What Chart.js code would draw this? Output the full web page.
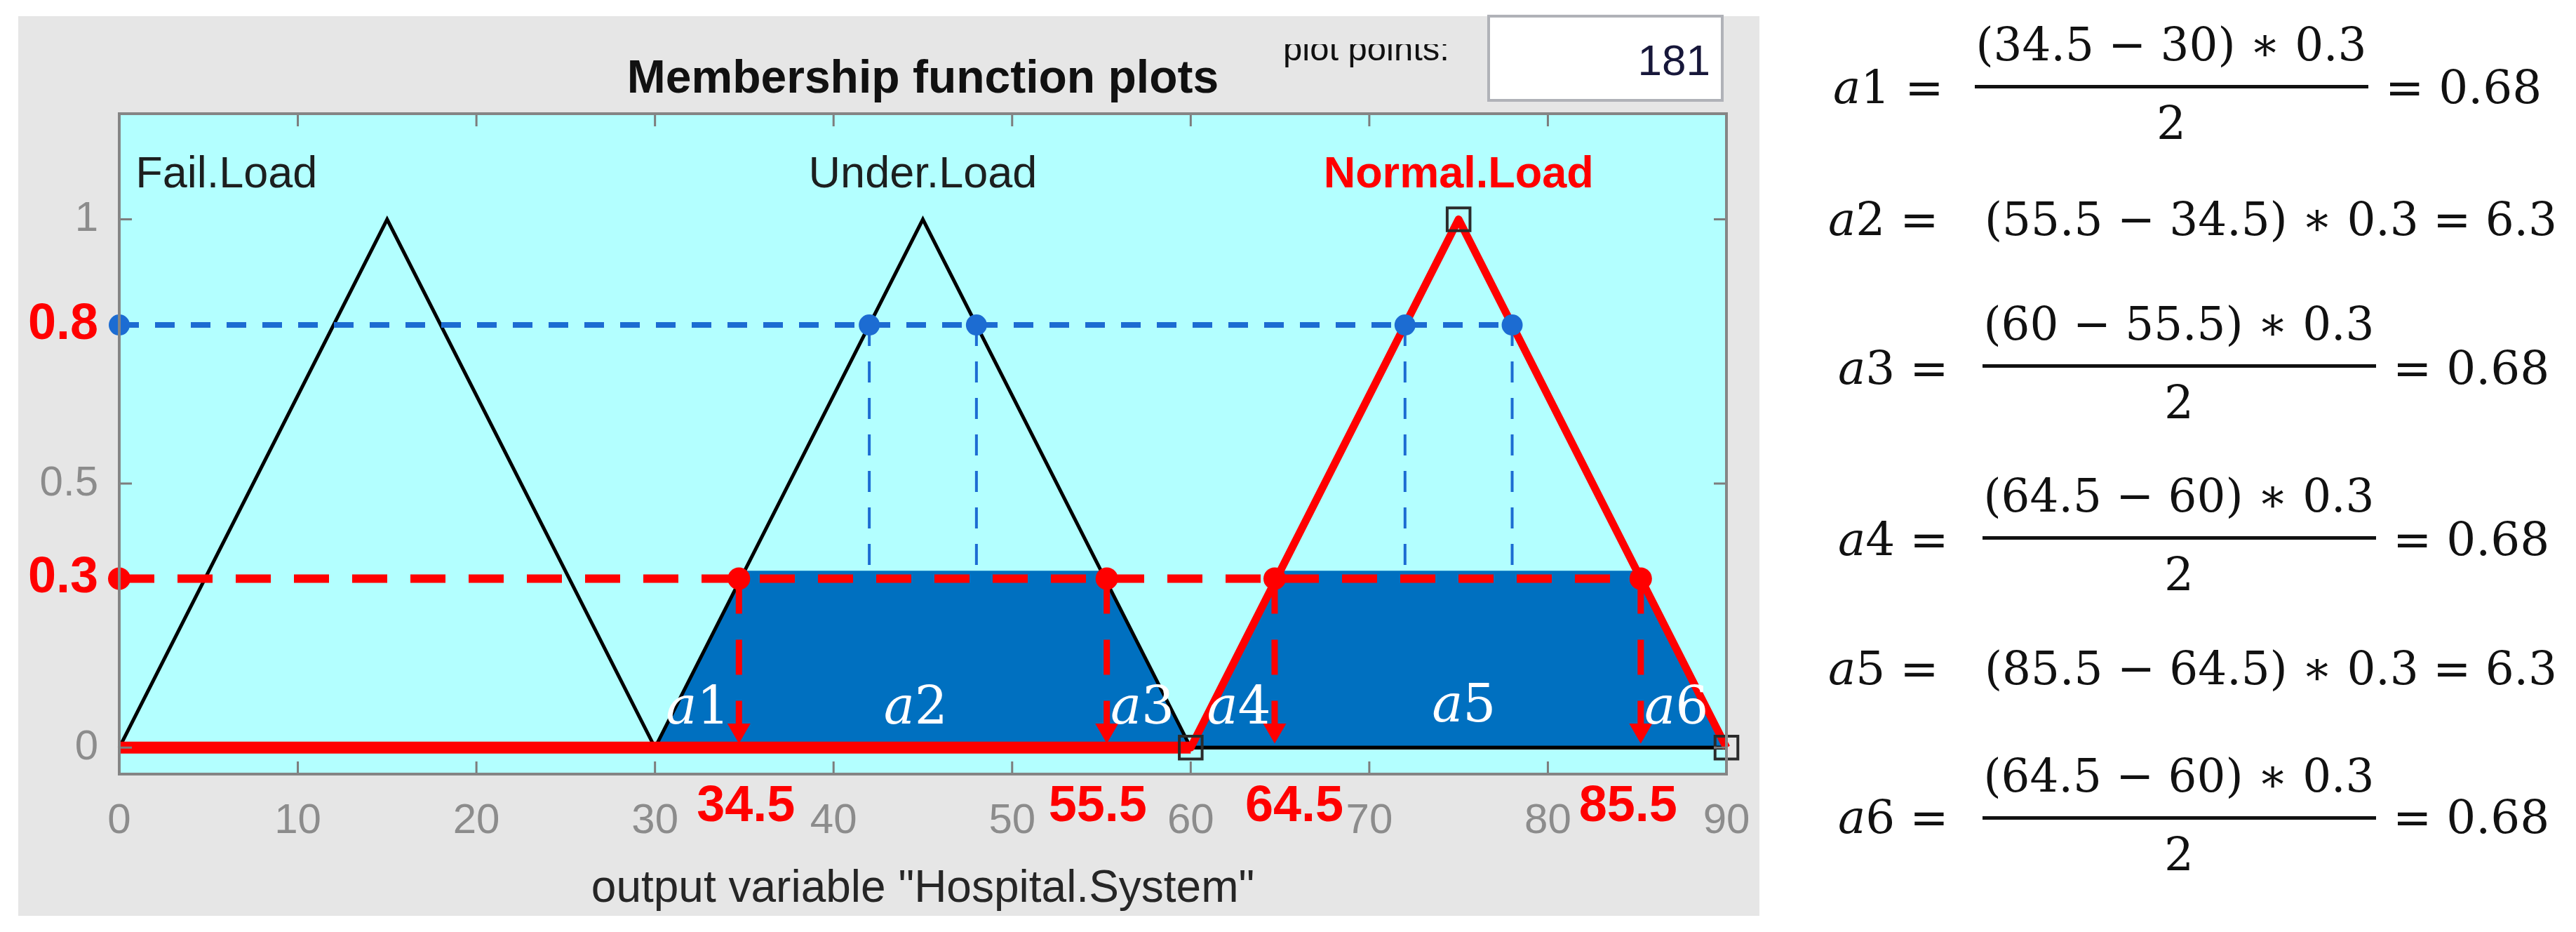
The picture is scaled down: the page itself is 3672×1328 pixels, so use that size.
<!DOCTYPE html>
<html>
<head>
<meta charset="utf-8">
<script src="https://cdn.jsdelivr.net/npm/chart.js@4.4.1/dist/chart.umd.min.js"></script>
<style>
  html, body { margin: 0; padding: 0; background: #fff; }
  canvas { display: block; }
</style>
</head>
<body>
<canvas id="mfChart" width="3672" height="1328"></canvas>
<script>
// axis ticks
const xTicks = [0, 10, 20, 30, 40, 50, 60, 70, 80, 90];
const yTicks = [0, 0.32, 0.5, 0.8, 1];
const yTickLabels = ["0", "0.3", "0.5", "0.8", "1"];
const markedLevels = [0.32, 0.8];

// membership functions (triangles over the whole range)
const failX = [0, 15, 30, 90];
const failY = [0, 1, 0, 0];
const underX = [0, 30, 45, 60, 90];
const underY = [0, 0, 1, 0, 0];
const normalX = [0, 60, 75, 90];
const normalY = [0, 0, 1, 0];
const mfNames = ["Fail.Load", "Under.Load", "Normal.Load"];
const mfNameX = [6, 45, 75];
const nameLevel = 1.06;

// clipped areas (blue)
const clipAX = [30, 35, 55, 60];
const clipBX = [60, 65, 85, 90];
const clipY = [0, 0.335, 0.335, 0];

// cut at 0.3 (red) and probe at 0.8 (blue)
const cutLevel = 0.32;
const cutX = [34.7, 55.3, 64.7, 85.2];
const cutLabels = ["34.5", "55.5", "64.5", "85.5"];
const arrowY = 0.033;
const probeLevel = 0.8;
const probeX = [42, 48, 72, 78];

// selected MF vertices (hollow squares)
const vertexX = [75, 60, 90];
const vertexY = [1, 0, 0];

// area labels
const areaNames = ["1", "2", "3", "4", "5", "6"];
const areaX = [32.4, 44.6, 57.3, 62.7, 75.3, 87.2];
const areaY = [0.045, 0.045, 0.045, 0.045, 0.05, 0.045];

// worked formulas on the right
const formulas = [
  { n: "1", num: "(34.5 − 30) ∗ 0.3", res: "= 0.68" },
  { n: "2", line: "(55.5 − 34.5) ∗ 0.3 = 6.3" },
  { n: "3", num: "(60 − 55.5) ∗ 0.3", res: "= 0.68" },
  { n: "4", num: "(64.5 − 60) ∗ 0.3", res: "= 0.68" },
  { n: "5", line: "(85.5 − 64.5) ∗ 0.3 = 6.3" },
  { n: "6", num: "(64.5 − 60) ∗ 0.3", res: "= 0.68" },
];

const SANS = '"Liberation Sans", Arial, sans-serif';
const SERIF = '"DejaVu Serif", serif';
const RED = "#ff0000";
const BLUE = "#1c6cd2";
const GREY = "#8c8c8c";

function pts(xs, ys) {
  return xs.map((x, i) => ({ x: x, y: ys[i] }));
}
function level(xs, y) {
  return xs.map((x) => ({ x: x, y: y }));
}
function isMarked(c) {
  return !!(c && c.tick && markedLevels.includes(c.tick.value));
}

const datasets = [];

// blue drop lines from the 0.8 probe
probeX.forEach((x) => {
  datasets.push({
    data: [{ x: x, y: probeLevel }, { x: x, y: 0.02 }],
    borderColor: BLUE, borderWidth: 4, borderDash: [30, 22], order: 100,
  });
});

// clipped area fills
[clipAX, clipBX].forEach((xs) => {
  datasets.push({
    data: pts(xs, clipY), fill: "origin", backgroundColor: "#0070c0",
    borderWidth: 0, order: 90,
  });
});

datasets.push({ data: pts(failX, failY), borderColor: "#000", borderWidth: 5, order: 80 });
datasets.push({ data: pts(underX, underY), borderColor: "#000", borderWidth: 5, order: 80 });
datasets.push({ data: pts(normalX, normalY), borderColor: RED, borderWidth: 11, borderJoinStyle: "round", order: 70 });
datasets.push({ data: level([0, 60], 0), borderColor: RED, borderWidth: 17, order: 69 });

// dashed cut lines
datasets.push({
  data: level([0, cutX[cutX.length - 1]], cutLevel),
  borderColor: RED, borderWidth: 12, borderDash: [50, 33], order: 60,
});
datasets.push({
  data: level([0, probeX[probeX.length - 1]], probeLevel),
  borderColor: BLUE, borderWidth: 8, borderDash: [28, 23], order: 59,
});

// red arrows down to the axis
cutX.forEach((x) => {
  datasets.push({
    data: [{ x: x, y: cutLevel }, { x: x, y: arrowY }],
    borderColor: RED, borderWidth: 9, borderDash: [50, 37],
    pointRadius: (c) => (c.dataIndex === 1 ? 19 : 0),
    pointStyle: "triangle", pointRotation: 180,
    pointBackgroundColor: RED, pointBorderWidth: 0, order: 50,
  });
});

// dots
datasets.push({
  data: level([0].concat(cutX), cutLevel), showLine: false,
  pointRadius: 16, pointBackgroundColor: RED, pointBorderWidth: 0, order: 40,
});
datasets.push({
  data: level([0].concat(probeX), probeLevel), showLine: false,
  pointRadius: 15, pointBackgroundColor: BLUE, pointBorderWidth: 0, order: 39,
});
datasets.push({
  data: pts(vertexX, vertexY), showLine: false, pointStyle: "rect",
  pointRadius: 23, pointBorderColor: "#2b2b2b", pointBorderWidth: 4,
  pointBackgroundColor: "rgba(0,0,0,0)", order: 30,
});

function drawA(ctx, n, x, y, size, color) {
  ctx.fillStyle = color;
  ctx.textAlign = "left";
  ctx.font = "italic " + size + "px " + SERIF;
  ctx.fillText("a", x, y);
  const w = ctx.measureText("a").width;
  ctx.font = size + "px " + SERIF;
  ctx.fillText(n, x + w, y);
  return w + ctx.measureText(n).width;
}

const decor = {
  id: "decor",
  beforeDraw(chart) {
    const { ctx, chartArea: a } = chart;
    ctx.save();
    ctx.fillStyle = "#ffffff";
    ctx.fillRect(0, 0, chart.width, chart.height);
    ctx.fillStyle = "#e6e6e6";
    ctx.fillRect(26, 23, 2482, 1282);

    // plot points box
    ctx.fillStyle = "#ffffff";
    ctx.fillRect(2120, 23, 337, 122);
    ctx.strokeStyle = "#b0b2b8";
    ctx.lineWidth = 4;
    ctx.strokeRect(2122, 23, 333, 120);
    ctx.fillStyle = "#17173a";
    ctx.font = "62px " + SANS;
    ctx.textAlign = "right";
    ctx.textBaseline = "alphabetic";
    ctx.fillText("181", 2438, 107);

    ctx.save();
    ctx.beginPath();
    ctx.rect(1820, 63, 270, 40);
    ctx.clip();
    ctx.fillStyle = "#111";
    ctx.font = "49px " + SANS;
    ctx.textAlign = "left";
    ctx.fillText("plot points:", 1829, 86);
    ctx.restore();

    ctx.fillStyle = "#b3ffff";
    ctx.fillRect(a.left, a.top, a.right - a.left, a.bottom - a.top);
    ctx.restore();
  },
  afterDatasetsDraw(chart) {
    const { ctx, chartArea: a, scales } = chart;
    ctx.save();
    ctx.strokeStyle = "#7d7d7d";
    ctx.lineWidth = 3;
    xTicks.forEach((v) => {
      const px = scales.x.getPixelForValue(v);
      ctx.beginPath();
      ctx.moveTo(px, a.top); ctx.lineTo(px, a.top + 18);
      ctx.moveTo(px, a.bottom); ctx.lineTo(px, a.bottom - 18);
      ctx.stroke();
    });
    yTicks.filter((v) => !markedLevels.includes(v)).forEach((v) => {
      const py = scales.y.getPixelForValue(v);
      ctx.beginPath();
      ctx.moveTo(a.left, py); ctx.lineTo(a.left + 18, py);
      ctx.moveTo(a.right, py); ctx.lineTo(a.right - 18, py);
      ctx.stroke();
    });
    ctx.strokeStyle = "#858585";
    ctx.lineWidth = 4;
    ctx.strokeRect(a.left, a.top, a.right - a.left, a.bottom - a.top);
    ctx.restore();
  },
  afterDraw(chart) {
    const { ctx, chartArea: a, scales } = chart;
    const sx = scales.x, sy = scales.y;
    ctx.save();
    ctx.textBaseline = "alphabetic";

    // title
    ctx.fillStyle = "#111";
    ctx.textAlign = "center";
    ctx.font = "bold 66px " + SANS;
    ctx.fillText("Membership function plots", (a.left + a.right) / 2, 132);

    // MF names
    mfNames.forEach((name, i) => {
      const sel = i === mfNames.length - 1;
      ctx.fillStyle = sel ? RED : "#1c1f1f";
      ctx.font = (sel ? "bold " : "") + "63px " + SANS;
      ctx.textAlign = "center";
      ctx.fillText(name, sx.getPixelForValue(mfNameX[i]), sy.getPixelForValue(nameLevel));
    });

    // area labels
    areaNames.forEach((n, i) => {
      ctx.font = "italic 74px " + SERIF;
      const w = ctx.measureText("a").width;
      ctx.font = "74px " + SERIF;
      const w2 = w + ctx.measureText(n).width;
      drawA(ctx, n, sx.getPixelForValue(areaX[i]) - w2 / 2, sy.getPixelForValue(areaY[i]), 74, "#ffffff");
    });

    // red cut positions under the axis
    const nudge = [10, -13, 28, -18];
    ctx.fillStyle = RED;
    ctx.font = "bold 72px " + SANS;
    ctx.textAlign = "center";
    cutLabels.forEach((t, i) => {
      ctx.fillText(t, sx.getPixelForValue(cutX[i]) + nudge[i], a.bottom + 67);
    });

    // formulas
    const rows = [
      { lx: 2613, base: 147, bar: 123 },
      { lx: 2606, base: 335 },
      { lx: 2620, base: 547, bar: 521 },
      { lx: 2620, base: 791, bar: 766 },
      { lx: 2606, base: 975 },
      { lx: 2620, base: 1187, bar: 1165 },
    ];
    formulas.forEach((f, i) => {
      const r = rows[i];
      const w = drawA(ctx, f.n, r.lx, r.base, 66, "#111");
      ctx.font = "66px " + SERIF;
      ctx.textAlign = "left";
      ctx.fillText(" =", r.lx + w, r.base);
      if (f.line) {
        ctx.fillText(f.line, 2829, r.base, 816);
      } else {
        const l = i === 0 ? 2815 : 2826;
        const cx = l + 280;
        ctx.fillRect(l, r.bar - 2, 561, 5);
        ctx.textAlign = "center";
        ctx.fillText(f.num, cx, r.bar - 37, 557);
        ctx.fillText("2", cx, r.bar + 75);
        ctx.textAlign = "left";
        ctx.fillText(f.res, l + 585, r.base, 224);
      }
    });
    ctx.restore();
  },
};

new Chart(document.getElementById("mfChart").getContext("2d"), {
  type: "line",
  data: { datasets: datasets },
  options: {
    responsive: false,
    animation: false,
    devicePixelRatio: 1,
    events: [],
    layout: { padding: { left: 0, top: 162, right: 1211, bottom: 0 } },
    elements: { line: { tension: 0 }, point: { radius: 0 } },
    datasets: { line: { clip: false } },
    plugins: {
      legend: { display: false },
      tooltip: { enabled: false },
    },
    scales: {
      x: {
        type: "linear",
        min: 0,
        max: 90,
        afterBuildTicks: (s) => { s.ticks = xTicks.map((v) => ({ value: v })); },
        afterFit: (s) => { s.height = 225; },
        grid: { display: false, drawTicks: false },
        border: { display: false },
        ticks: { color: GREY, font: { family: SANS, size: 60 }, padding: 31, maxRotation: 0, autoSkip: false },
        title: {
          display: true,
          text: 'output variable "Hospital.System"',
          color: "#262626",
          font: { family: SANS, size: 64 },
          padding: { top: 0, bottom: 22 },
        },
      },
      y: {
        type: "linear",
        min: -0.05,
        max: 1.2,
        afterBuildTicks: (s) => { s.ticks = yTicks.map((v) => ({ value: v })); },
        afterFit: (s) => { s.width = 170; },
        grid: { display: false, drawTicks: false },
        border: { display: false },
        ticks: {
          autoSkip: false,
          padding: 30,
          callback: (v, i) => yTickLabels[i],
          color: (c) => (isMarked(c) ? RED : GREY),
          font: (c) => (isMarked(c)
            ? { family: SANS, size: 72, weight: "bold" }
            : { family: SANS, size: 60 }),
        },
      },
    },
  },
  plugins: [decor],
});
</script>
</body>
</html>
